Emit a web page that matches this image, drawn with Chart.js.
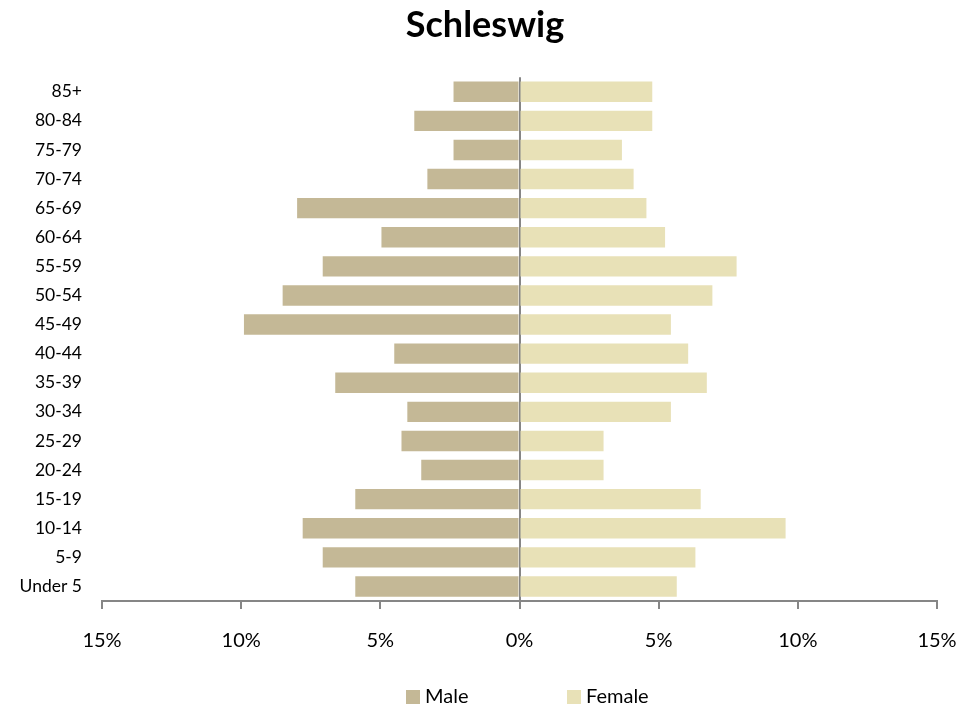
<!DOCTYPE html>
<html>
<head>
<meta charset="utf-8">
<script src="https://cdn.jsdelivr.net/npm/chart.js@4"></script>
<style>
html,body{margin:0;padding:0;background:#fff;}
#wrap{width:979px;height:713px;}
</style>
</head>
<body>
<div id="wrap"><canvas id="c" width="979" height="713"></canvas></div>
<script>
const categories = ['85+','80-84','75-79','70-74','65-69','60-64','55-59','50-54','45-49','40-44','35-39','30-34','25-29','20-24','15-19','10-14','5-9','Under 5'];
const maleValues = [2.37,3.78,2.37,3.31,7.99,4.96,7.07,8.51,9.90,4.50,6.62,4.03,4.24,3.53,5.90,7.79,7.07,5.90];
const femaleValues = [4.77,4.77,3.68,4.10,4.56,5.23,7.80,6.93,5.44,6.06,6.73,5.44,3.02,3.02,6.51,9.56,6.32,5.65];
const xTicks = [-15,-10,-5,0,5,10,15];

const FONT = 'Lato, "Open Sans", sans-serif';
Chart.defaults.font.family = FONT;
Chart.defaults.color = '#000';

// Legend drawn below the axis with Excel-like wide spacing between items
const spacedLegend = {
  id: 'spacedLegend',
  afterDraw(chart) {
    const ctx = chart.ctx;
    const items = chart.data.datasets;
    const starts = [406, 567];
    const cy = 697;
    ctx.save();
    ctx.font = '20px ' + FONT;
    ctx.textBaseline = 'middle';
    ctx.textAlign = 'left';
    items.forEach((ds, i) => {
      const x = starts[i];
      ctx.fillStyle = ds.backgroundColor;
      ctx.fillRect(x, cy - 7, 14, 14);
      ctx.fillStyle = '#000';
      ctx.fillText(ds.label, x + 19, cy);
    });
    ctx.restore();
  }
};

new Chart(document.getElementById('c'), {
  type: 'bar',
  data: {
    labels: categories,
    datasets: [
      { label: 'Male', data: maleValues.map(v => -v), backgroundColor: '#C4B896', barPercentage: 0.7, categoryPercentage: 1 },
      { label: 'Female', data: femaleValues, backgroundColor: '#E8E1B7', barPercentage: 0.7, categoryPercentage: 1 }
    ]
  },
  options: {
    indexAxis: 'y',
    responsive: false,
    animation: false,
    layout: { padding: { left: 16, right: 25, top: 0, bottom: 59 } },
    scales: {
      x: {
        stacked: true,
        min: -15, max: 15,
        afterBuildTicks: (axis) => { axis.ticks = xTicks.map(v => ({ value: v })); },
        afterFit: (scale) => { scale.height = 53; },
        ticks: { callback: v => Math.abs(v) + '%', font: { size: 20 }, padding: 20, color: '#000' },
        grid: {
          color: ctx => (ctx.tick && ctx.tick.value === 0) ? '#868686' : 'rgba(0,0,0,0)',
          lineWidth: 2,
          tickColor: '#868686',
          tickLength: 8,
          drawOnChartArea: true
        },
        border: { display: true, color: '#868686', width: 2 }
      },
      y: {
        stacked: true,
        afterFit: (scale) => { scale.width = 86; },
        grid: { display: false },
        border: { display: false },
        ticks: { font: { size: 17.5 }, padding: 12, color: '#000' }
      },
      yRight: {
        type: 'category',
        position: 'right',
        labels: categories,
        afterFit: (scale) => { scale.width = 17; },
        grid: { display: false },
        border: { display: false },
        ticks: { display: false }
      }
    },
    plugins: {
      title: { display: true, text: 'Schleswig', font: { size: 36, weight: 'bold' }, color: '#000', padding: { top: 4, bottom: 30 } },
      legend: { display: false },
      tooltip: { enabled: false }
    }
  },
  plugins: [spacedLegend]
});
</script>
</body>
</html>
